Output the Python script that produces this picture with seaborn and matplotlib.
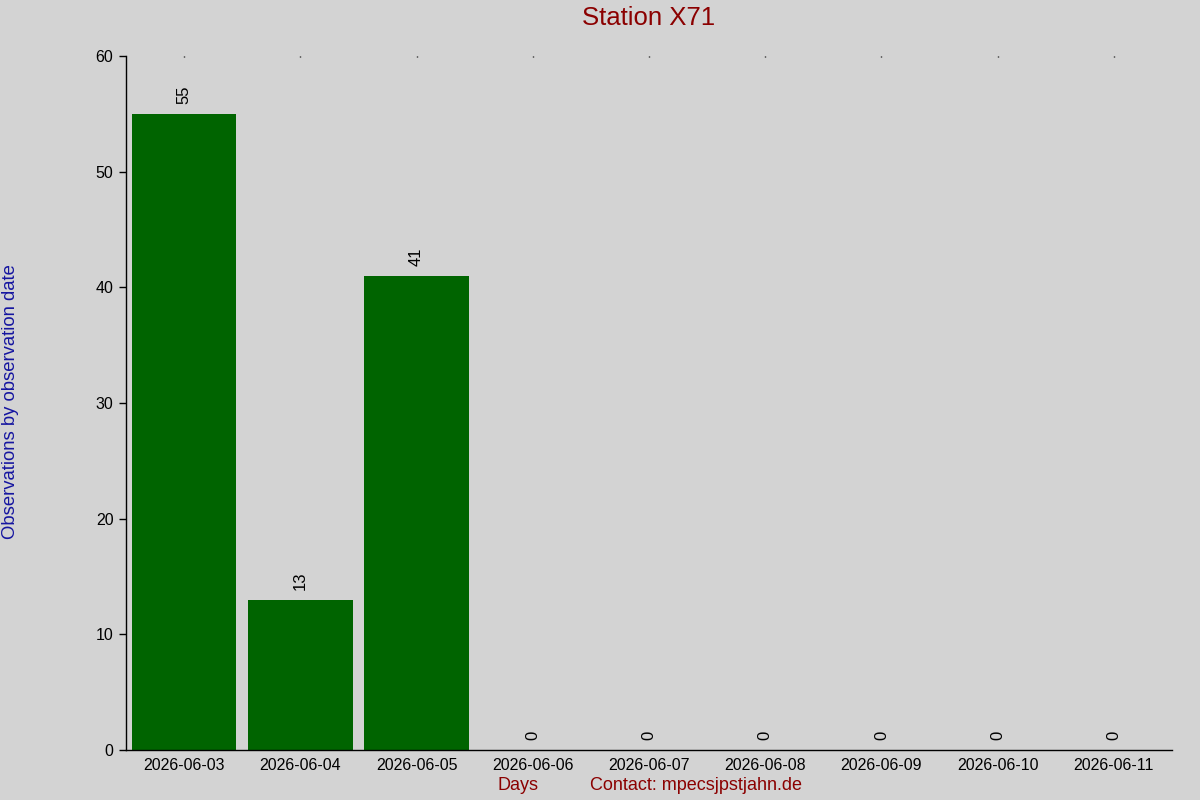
import matplotlib
matplotlib.use("Agg")
import matplotlib.pyplot as plt
import seaborn as sns
import pandas as pd

# observations per day for station X71
days = ["2026-06-03", "2026-06-04", "2026-06-05", "2026-06-06", "2026-06-07",
        "2026-06-08", "2026-06-09", "2026-06-10", "2026-06-11"]
counts = [55, 13, 41, 0, 0, 0, 0, 0, 0]
y_ticks = [0, 10, 20, 30, 40, 50, 60]

BG = "#d3d3d3"
BAR = "#006400"
RED = "#8b0000"
BLUE = "#1515a0"

sns.set_style("ticks", {"axes.facecolor": BG, "figure.facecolor": BG,
                        "text.color": "black", "xtick.color": "black",
                        "ytick.color": "black", "axes.edgecolor": "black"})
plt.rcParams["font.family"] = ["Liberation Sans", "DejaVu Sans"]

df = pd.DataFrame({"day": days, "count": counts})

fig = plt.figure(figsize=(12, 8), dpi=100)
ax = fig.add_axes([126 / 1200, 50 / 800, 1046 / 1200, 694 / 800])

sns.barplot(data=df, x="day", y="count", color=BAR, saturation=1, width=0.9,
            linewidth=0, ax=ax)
ax.bar_label(ax.containers[0], rotation=90, padding=7, fontsize=12, color="black")

ax.set_xlim(-0.5, len(days) - 0.5)
ax.set_ylim(0, 60)
ax.set_yticks(y_ticks)

sns.despine(ax=ax)
ax.tick_params(axis="y", length=5, width=1, labelsize=11.5, pad=4)
ax.tick_params(axis="x", bottom=False, top=True, length=1, width=1,
               direction="in", labelsize=11.5, pad=6)
ax.spines["left"].set_linewidth(1)
ax.spines["bottom"].set_linewidth(1)

ax.set_title("Station X71", color=RED, fontsize=18.5, pad=22)
ax.set_xlabel("")
ax.set_ylabel("")

# axis titles placed as free text like the original
fig.text(11 / 1200, 1 - 402 / 800, "Observations by observation date", color=BLUE,
         fontsize=13.3, rotation=90, ha="center", va="center")
fig.text(518 / 1200, 1 - 786 / 800, "Days", color=RED, fontsize=13,
         ha="center", va="center")
fig.text(590 / 1200, 1 - 786 / 800, "Contact: mpecsjpstjahn.de", color=RED,
         fontsize=13, ha="left", va="center")

fig.savefig("out.png", dpi=100, facecolor=BG)
